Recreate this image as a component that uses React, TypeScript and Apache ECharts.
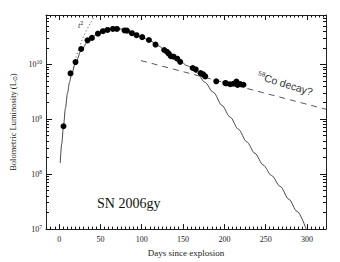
import React, { useEffect, useRef } from 'react';
import * as echarts from 'echarts';

// Observed bolometric points (days since explosion, luminosity in L_sun)
const obsDays = [5.2, 13.7, 19.7, 26.6, 34.3, 39.6, 46.9, 52.9, 58.5, 65, 69.9, 79.1, 82, 88, 93.6, 100.5, 108.6, 116.6, 127.1, 130.4, 132.6, 135.2, 138.4, 142.9, 146.5, 161.6, 165.3, 171.3, 174.3, 176.8, 190.1, 201, 202.2, 207, 211, 214.6, 215.9, 219.1, 223.1];
const obsLum = [7.5e8, 6.9e9, 1.11e10, 1.92e10, 2.76e10, 3.06e10, 3.66e10, 4.05e10, 4.27e10, 4.46e10, 4.46e10, 4.19e10, 4.15e10, 3.73e10, 3.43e10, 3.16e10, 2.8e10, 2.31e10, 1.84e10, 1.71e10, 1.58e10, 1.42e10, 1.39e10, 1.28e10, 1.12e10, 8.65e9, 8.13e9, 6.97e9, 6.61e9, 6.08e9, 4.94e9, 4.6e9, 4.55e9, 4.37e9, 4.46e9, 4.88e9, 4.24e9, 4.42e9, 4.28e9];

// Solid model curve
const modelDays = [1.2, 3, 5.2, 7.5, 10, 12.5, 15, 20, 27, 35, 45, 55, 65, 72, 80, 90, 100, 110, 120, 130, 140, 146.5, 155, 166.7, 176, 186.8, 197, 207, 217, 227, 237, 247, 257, 267.6, 278, 288, 299];
const modelLum = [1.6e8, 3.55e8, 7.6e8, 1.58e9, 3.0e9, 4.8e9, 6.8e9, 1.1e10, 1.86e10, 2.7e10, 3.5e10, 4.1e10, 4.45e10, 4.5e10, 4.3e10, 3.7e10, 3.15e10, 2.7e10, 2.2e10, 1.72e10, 1.35e10, 1.15e10, 9.5e9, 7.1e9, 4.8e9, 3.1e9, 1.8e9, 1.1e9, 6.6e8, 3.9e8, 2.4e8, 1.47e8, 9.5e7, 6.0e7, 3.5e7, 2.1e7, 1.0e7];

// Dotted t^2 curve
const t2Days = [17, 19.4, 23.4, 29.4, 37.5, 43.6];
const t2Lum = [8.8e9, 1.23e10, 1.86e10, 3.24e10, 5.6e10, 7.9e10];

// Dashed 56Co decay line
const coDays = [99, 323];
const coLum = [1.18e10, 1.53e9];

// Axes
const X_MIN = -16;
const X_MAX = 323;
const Y_MIN = 1e7;
const Y_MAX = 8e10;
const xMajorTicks = [0, 50, 100, 150, 200, 250, 300];
const xMinorStart = -15;
const xMinorEnd = 320;
const xMinorStep = 5;
const yMajorTicks = [1e7, 1e8, 1e9, 1e10];
const yMinorMultipliers = [2, 3, 4, 5, 6, 7, 8, 9];

const pairs = (xs: number[], ys: number[]) => xs.map((x, i) => [x, ys[i]]);

const AX = '#222';
const TICK = '#111';
const SERIF = 'Liberation Serif';
const X_MAJ_LEN = 5;
const X_MIN_LEN = 2.5;
const Y_MAJ_LEN = 6;
const Y_MIN_LEN = 3;

// Tick marks for a boxed frame: [x, y, dx, dy] (data anchor + pixel offset)
const tickData: number[][] = [];
const xMinorTicks: number[] = [];
for (let v = xMinorStart; v <= xMinorEnd; v += xMinorStep) xMinorTicks.push(v);
xMinorTicks.forEach((v) => {
  const len = xMajorTicks.indexOf(v) >= 0 ? X_MAJ_LEN : X_MIN_LEN;
  tickData.push([v, Y_MIN, 0, -len]);
  tickData.push([v, Y_MAX, 0, len]);
});
yMajorTicks.forEach((d) => {
  tickData.push([X_MIN, d, Y_MAJ_LEN, 0]);
  tickData.push([X_MAX, d, -Y_MAJ_LEN, 0]);
  yMinorMultipliers.forEach((m) => {
    const v = m * d;
    if (v <= Y_MAX) {
      tickData.push([X_MIN, v, Y_MIN_LEN, 0]);
      tickData.push([X_MAX, v, -Y_MIN_LEN, 0]);
    }
  });
});

const supLabel = (v: number) => {
  const l = Math.log10(v);
  const e = Math.round(l);
  if (Math.abs(l - e) > 1e-6) return '';
  return '10{sup|' + e + '}';
};

const frameLine = () => ({ show: true, onZero: false, lineStyle: { color: AX, width: 1 } });

const textGraphics = [
  {
    type: 'text',
    id: 't2label',
    x: 78,
    y: 20,
    style: {
      text: 't{s|2}',
      fill: '#333',
      font: 'italic 8px ' + SERIF,
      lineHeight: 10,
      rich: { s: { fontSize: 5.5, verticalAlign: 'top', lineHeight: 10, fill: '#333' } },
    },
  },
  {
    type: 'text',
    id: 'colabel',
    x: 285,
    y: 84,
    rotation: -0.3,
    style: {
      text: '{s|58}Co decay?',
      fill: '#333',
      font: '10.5px Liberation Sans',
      align: 'center',
      verticalAlign: 'middle',
      lineHeight: 13,
      rich: { s: { fontSize: 6.5, verticalAlign: 'top', lineHeight: 13, fill: '#333' } },
    },
  },
  {
    type: 'text',
    id: 'snlabel',
    x: 97,
    y: 203,
    style: {
      text: 'SN 2006gy',
      fill: '#111',
      font: '14px ' + SERIF,
      verticalAlign: 'middle',
    },
  },
];

const option = {
  animation: false,
  backgroundColor: '#fff',
  grid: { left: 46, right: 14, top: 15, bottom: 30.5 },
  xAxis: [
    {
      type: 'value',
      position: 'bottom',
      min: X_MIN,
      max: X_MAX,
      axisLine: frameLine(),
      axisTick: { show: false },
      axisLabel: {
        show: true,
        customValues: xMajorTicks,
        margin: 6,
        color: AX,
        fontFamily: SERIF,
        fontSize: 8,
      },
      splitLine: { show: false },
      name: 'Days since explosion',
      nameLocation: 'middle',
      nameGap: 16,
      nameTextStyle: { color: AX, fontFamily: SERIF, fontSize: 9 },
    },
    {
      type: 'value',
      position: 'top',
      min: X_MIN,
      max: X_MAX,
      axisLine: frameLine(),
      axisTick: { show: false },
      axisLabel: { show: false },
      splitLine: { show: false },
    },
  ],
  yAxis: [
    {
      type: 'log',
      position: 'left',
      min: Y_MIN,
      max: Y_MAX,
      logBase: 10,
      axisLine: frameLine(),
      axisTick: { show: false },
      axisLabel: {
        show: true,
        margin: 4,
        formatter: supLabel,
        color: AX,
        fontFamily: SERIF,
        fontSize: 8,
        lineHeight: 11,
        rich: {
          sup: { fontSize: 5.5, fontFamily: SERIF, color: AX, verticalAlign: 'top', lineHeight: 11 },
        },
      },
      splitLine: { show: false },
      name: 'Bolometric Luminosity (L{sub|⊙})',
      nameLocation: 'middle',
      nameGap: 15,
      nameTextStyle: {
        color: AX,
        fontFamily: SERIF,
        fontSize: 8.5,
        rich: { sub: { fontSize: 6, color: AX, verticalAlign: 'bottom', padding: [3, 0, 0, 0] } },
      },
    },
    {
      type: 'log',
      position: 'right',
      min: Y_MIN,
      max: Y_MAX,
      logBase: 10,
      axisLine: frameLine(),
      axisTick: { show: false },
      axisLabel: { show: false },
      splitLine: { show: false },
    },
  ],
  series: [
    {
      type: 'line',
      data: pairs(modelDays, modelLum),
      showSymbol: false,
      smooth: 0.3,
      smoothMonotone: 'x',
      lineStyle: { color: '#333', width: 0.9 },
      z: 2,
    },
    {
      type: 'line',
      data: pairs(t2Days, t2Lum),
      showSymbol: false,
      smooth: 0.3,
      lineStyle: { color: '#444', width: 1, type: [1, 2.5] },
      z: 2,
    },
    {
      type: 'line',
      data: pairs(coDays, coLum),
      showSymbol: false,
      lineStyle: { color: '#444', width: 0.9, type: [6, 5] },
      z: 2,
    },
    {
      type: 'scatter',
      data: pairs(obsDays, obsLum),
      symbol: 'circle',
      symbolSize: 6,
      itemStyle: { color: '#000', opacity: 1 },
      z: 3,
    },
  ],
  graphic: textGraphics,
};

export default function App() {
  const ref = useRef<HTMLDivElement>(null);
  useEffect(() => {
    const chart = echarts.init(ref.current as HTMLDivElement, null, { renderer: 'svg' });
    chart.setOption(option as any);
    const tickLines = tickData.map(([x, y, dx, dy], i) => {
      const p = chart.convertToPixel({ xAxisIndex: 0, yAxisIndex: 0 }, [x, y]) as number[];
      // snap to pixel centres so 1px ticks render crisp
      const px = dx === 0 ? Math.round(p[0] - 0.5) + 0.5 : p[0];
      const py = dy === 0 ? Math.round(p[1] - 0.5) + 0.5 : p[1];
      return {
        type: 'line',
        id: 'tick' + i,
        silent: true,
        z: 10,
        shape: { x1: px, y1: py, x2: px + dx, y2: py + dy },
        style: { stroke: TICK, lineWidth: 1 },
      };
    });
    chart.setOption({ graphic: [...textGraphics, ...tickLines] } as any);
    return () => chart.dispose();
  }, []);
  return (
    <div
      ref={ref}
      style={{ position: 'fixed', left: 0, top: 0, width: 340, height: 262, background: '#fff' }}
    />
  );
}
